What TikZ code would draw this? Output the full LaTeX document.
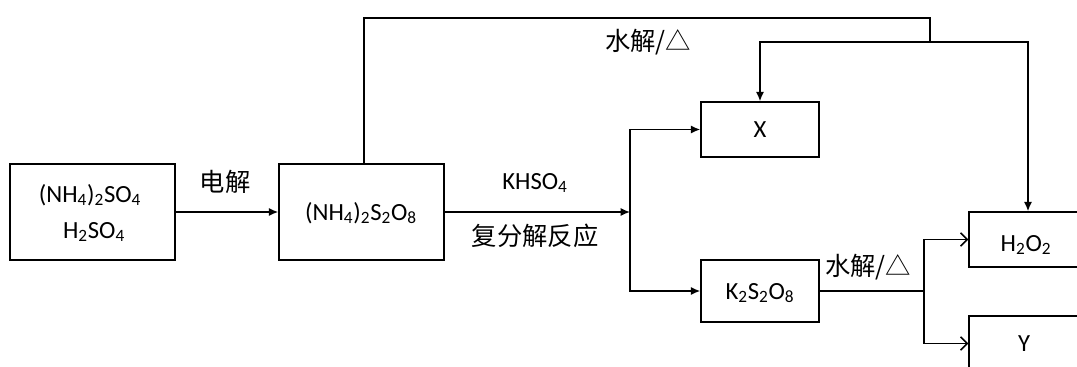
\documentclass[tikz,border=0pt]{standalone}
\usepackage{fontspec}
\setmainfont{Carlito}
\newfontfamily\cjk{Noto Sans CJK SC}
\usetikzlibrary{arrows.meta}
\newcommand{\sbs}[1]{\textsubscript{#1}}
\begin{document}
\begin{tikzpicture}[x=0.75pt,y=-0.75pt,
  box/.style={draw, line width=1.1pt, fill=white, inner sep=0pt},
  ln/.style={line width=1.1pt},
  fa/.style={ln,-{Latex[length=7pt,width=6pt]}},
  oa/.style={ln,-{Straight Barb[length=5pt,width=10pt]}},
  lbl/.style={font=\fontsize{18.5}{21}\selectfont, inner sep=0pt},
  cn/.style={font=\cjk\fontsize{19}{22}\selectfont, inner sep=0pt}]
\useasboundingbox (0,0) rectangle (1077,367);
% boxes
\node[box, minimum width=123.75pt, minimum height=72pt] (A) at (92.5,212) {};
\node[box, minimum width=123.75pt, minimum height=72pt] (B) at (361.5,212) {};
\node[box, minimum width=88.5pt, minimum height=41.25pt] (X) at (760,129.5) {};
\node[box, minimum width=88.5pt, minimum height=46.5pt] (K) at (760,291) {};
\node[box, minimum width=88.5pt, minimum height=41.25pt] (H) at (1028,239.5) {};
\node[box, minimum width=88.5pt, minimum height=41.25pt] (Y) at (1028,343.5) {};
% box texts
\node[lbl] (a1) at (90,195) {(NH\sbs{4})\sbs{2}SO\sbs{4}};
\node[lbl] (a2) at (94,232) {H\sbs{2}SO\sbs{4}};
\node[lbl] (b1) at (361,213) {(NH\sbs{4})\sbs{2}S\sbs{2}O\sbs{8}};
\node[lbl] (x1) at (760,130) {X};
\node[lbl] (k1) at (760,293) {K\sbs{2}S\sbs{2}O\sbs{8}};
\node[lbl] (h1) at (1026,245) {H\sbs{2}O\sbs{2}};
\node[lbl] (y1) at (1024,344) {Y};
% coordinates
\coordinate (tl) at (364,18);
\coordinate (tr) at (930,18);
\coordinate (m) at (930,42);
\coordinate (j1) at (630,212);
\coordinate (j2) at (924,291);
% connectors
\draw[fa] (A.east) -- (B.west);
\draw[fa] (B.east) -- (j1);
\draw[fa] (j1) |- (X.west);
\draw[fa] (j1) |- (K.west);
\draw[ln] (B.north -| tl) -- (tl) -- (tr) -- (m);
\draw[fa] (m) -| (X.north);
\draw[fa] (m) -| (H.north);
\draw[ln] (K.east) -- (j2);
\draw[oa] (j2) |- (H.west);
\draw[oa] (j2) |- (Y.west);
% labels
\node[cn] (l1) at (225,182) {电解};
\node[lbl] (l2) at (535,183) {KHSO\sbs{4}};
\node[cn] (l3) at (535,236) {复分解反应};
\node[cn] (l4) at (648,42) {水解/△};
\node[cn] (l5) at (868,267) {水解/△};
\end{tikzpicture}
\end{document}
